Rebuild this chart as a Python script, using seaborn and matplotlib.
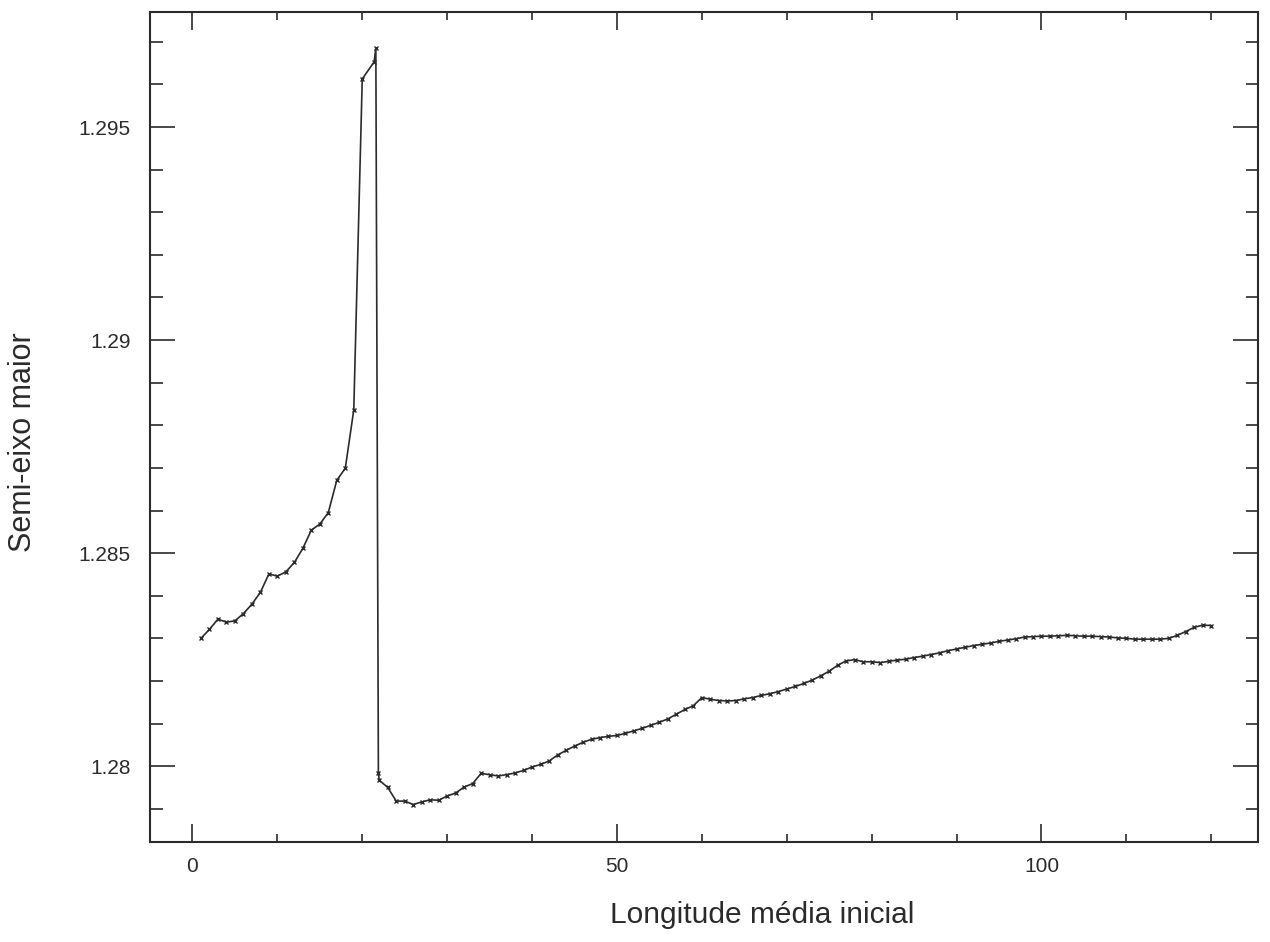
import numpy as np
import pandas as pd
import matplotlib
matplotlib.use("Agg")
import matplotlib.pyplot as plt
import seaborn as sns
from matplotlib.ticker import MultipleLocator

# Initial mean longitude (degrees)
longitude = [1, 2, 3, 4, 5, 6, 7, 8, 9, 10, 11, 12, 13, 14, 15, 16, 17, 18, 19, 20,
             21.4, 21.6, 21.9] + list(range(22, 121))

# Semi-major axis
semi_major = [
    1.28300, 1.28321, 1.28345, 1.28338, 1.28341, 1.28358, 1.28380, 1.28408, 1.28451, 1.28446,
    1.28456, 1.28478, 1.28511, 1.28554, 1.28568, 1.28595, 1.28671, 1.28699, 1.28836, 1.29613,
    1.29653, 1.29686, 1.27984,
    # 22 .. 120
    1.27967, 1.27950, 1.27918, 1.27918, 1.27910, 1.27916, 1.27921, 1.27920, 1.27930, 1.27937,
    1.27951, 1.27959, 1.27983, 1.27980, 1.27977, 1.27980, 1.27984, 1.27990, 1.27998, 1.28004,
    1.28012, 1.28026, 1.28037, 1.28047, 1.28056, 1.28063, 1.28067, 1.28070, 1.28072, 1.28077,
    1.28083, 1.28089, 1.28096, 1.28103, 1.28111, 1.28122, 1.28133, 1.28142, 1.28161, 1.28157,
    1.28154, 1.28153, 1.28154, 1.28158, 1.28161, 1.28166, 1.28170, 1.28175, 1.28181, 1.28187,
    1.28194, 1.28202, 1.28212, 1.28223, 1.28237, 1.28247, 1.28250, 1.28245, 1.28245, 1.28243,
    1.28246, 1.28249, 1.28251, 1.28255, 1.28258, 1.28262, 1.28266, 1.28271, 1.28275, 1.28279,
    1.28283, 1.28286, 1.28289, 1.28293, 1.28296, 1.28299, 1.28303, 1.28304, 1.28305, 1.28305,
    1.28306, 1.28307, 1.28306, 1.28305, 1.28305, 1.28304, 1.28303, 1.28301, 1.28300, 1.28298,
    1.28298, 1.28298, 1.28298, 1.28300, 1.28307, 1.28316, 1.28326, 1.28331, 1.28330,
]

x_ticks = [0, 50, 100]
y_ticks = [1.28, 1.285, 1.29, 1.295]
y_tick_labels = ["1.28", "1.285", "1.29", "1.295"]
x_label = "Longitude média inicial"
y_label = "Semi-eixo maior"

df = pd.DataFrame({"lon": longitude, "a": semi_major})

sns.set_style("ticks")
plt.rcParams["font.family"] = ["Liberation Sans", "DejaVu Sans"]
ink = "#2b2b2b"

fig = plt.figure(figsize=(12.70, 9.42), dpi=100)
ax = fig.add_axes([150 / 1270, 1 - 842 / 942, 1108 / 1270, 830 / 942])

sns.lineplot(data=df, x="lon", y="a", ax=ax, sort=False, color=ink, linewidth=1.2,
             marker="x", markersize=3.5, markeredgewidth=1.0, markeredgecolor=ink)

ax.set_xlim(-5, 125.5)
ax.set_ylim(1.27822, 1.2977)
ax.set_xticks(x_ticks)
ax.set_xticklabels([str(t) for t in x_ticks])
ax.set_yticks(y_ticks)
ax.set_yticklabels(y_tick_labels)
ax.xaxis.set_minor_locator(MultipleLocator(10))
ax.yaxis.set_minor_locator(MultipleLocator(0.001))

ax.tick_params(which="both", direction="in", top=True, right=True, colors=ink,
               labelsize=15, width=1.2)
ax.tick_params(axis="x", which="major", length=13, pad=11)
ax.tick_params(axis="x", which="minor", length=6)
ax.tick_params(axis="y", which="major", length=18, pad=14)
ax.tick_params(axis="y", which="minor", length=9)

for s in ax.spines.values():
    s.set_visible(True)
    s.set_linewidth(1.5)
    s.set_color(ink)

ax.set_xlabel(x_label, fontsize=21.5, color=ink)
ax.set_ylabel(y_label, fontsize=22, color=ink)
ax.xaxis.set_label_coords((762 - 150) / 1108, -(915 - 842) / 830)
ax.yaxis.set_label_coords(-(150 - 23) / 1108, (842 - 442) / 830)
ax.xaxis.label.set_va("center")
ax.yaxis.label.set_va("center")

fig.savefig("out.png", dpi=100)
